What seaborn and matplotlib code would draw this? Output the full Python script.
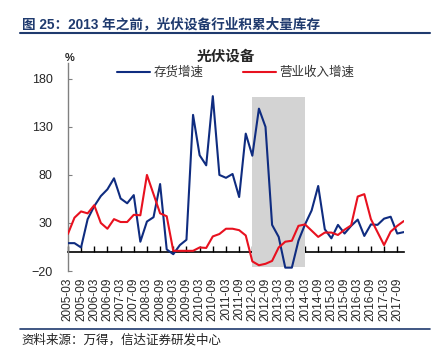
import pandas as pd
import seaborn as sns
import matplotlib.pyplot as plt
from matplotlib.lines import Line2D

# quarterly series, 2005-03 .. 2017-12 (%)
inventory_growth = [9, 9, 4.5, 34, 47.5, 58, 65, 76.5, 55.5, 50.5, 59, 10.5, 31.5, 36, 70.5, 2.5,
                    -2.5, 7, 12.5, 142.5, 100.5, 90, 162, 80, 77, 81, 57, 123, 100, 149, 130, 28,
                    15.5, -16.5, -16.5, 11.5, 28.5, 43, 68.5, 23.5, 14, 28, 19, 27, 33.5, 16.5,
                    28.5, 28, 34.5, 36.5, 19, 20.5]
revenue_growth = [18.5, 35.5, 42, 40, 48.5, 30, 24, 34, 31, 31, 38.5, 38, 80, 60, 40, 37,
                  1, 1, 1, 1, 4.5, 4, 16, 18.5, 24, 24, 22.5, 17, -10, -14, -12.5, -9.5,
                  4.5, 10.5, 11.5, 27, 28.5, 22, 15.5, 20, 20, 17.5, 23, 27.5, 57.5, 60,
                  34, 20.5, 7, 21, 27, 32]
tick_labels = ["2005-03", "2005-09", "2006-03", "2006-09", "2007-03", "2007-09", "2008-03",
               "2008-09", "2009-03", "2009-09", "2010-03", "2010-09", "2011-03", "2011-09",
               "2012-03", "2012-09", "2013-03", "2013-09", "2014-03", "2014-09", "2015-03",
               "2015-09", "2016-03", "2016-09", "2017-03", "2017-09"]
y_ticks = [-20, 30, 80, 130, 180]

# shaded period 2012-03 .. 2014-03
shade_start, shade_end = 28, 36
shade_low, shade_high = -15.5, 161

quarters = list(range(len(inventory_growth)))
df = pd.DataFrame({
    "q": quarters * 2,
    "value": inventory_growth + revenue_growth,
    "series": ["存货增速"] * len(quarters) + ["营业收入增速"] * len(quarters),
})

sns.set_style("white")
plt.rcParams['font.family'] = ['Liberation Sans', 'Noto Sans CJK SC']

fig = plt.figure(figsize=(4.38, 3.58), dpi=100)
ax = fig.add_axes([0.155, 0.243, 0.767, 0.581])

ax.fill_between([shade_start, shade_end], shade_low, shade_high, color="#d3d3d3", lw=0, zorder=1)

sns.lineplot(data=df, x="q", y="value", hue="series",
             palette={"存货增速": "#0f2c80", "营业收入增速": "#e8111f"},
             linewidth=1.5, ax=ax, zorder=3)

ax.set_xlim(0, 51)
ax.set_ylim(-20, 196.5)
ax.set_xlabel("")
ax.set_ylabel("")

ax.set_yticks(y_ticks)
ax.tick_params(axis="y", direction="in", length=3, pad=11, labelsize=9, color="#808080", left=True)
ax.set_xticks(quarters[::2])
ax.set_xticklabels(tick_labels, rotation=90, fontsize=8.5)
ax.tick_params(axis="x", length=0, pad=5)

for side in ["top", "right", "bottom"]:
    ax.spines[side].set_visible(False)
ax.spines["left"].set_color("#808080")
ax.spines["left"].set_linewidth(1)

# zero line with its own upward ticks
zero_axis = ax.secondary_xaxis(0, transform=ax.transData)
zero_axis.set_xticks(quarters[::2])
zero_axis.set_xticklabels([])
zero_axis.tick_params(axis="x", direction="in", length=4, width=1, color="black")
zero_axis.spines["bottom"].set_color("black")
zero_axis.spines["bottom"].set_linewidth(1.2)

ax.legend(loc="center", bbox_to_anchor=(0.5, 0.952), ncol=2, frameon=False,
          handlelength=2.6, handletextpad=0.3, columnspacing=3.2, fontsize=9,
          labelcolor="#333333")

ax.text(0.006, 1.024, "%", transform=ax.transAxes, fontsize=8, fontweight="bold",
        ha="center", va="center")
fig.text(0.516, 0.841, "光伏设备", ha="center", va="center", fontsize=10.5, fontweight="bold")

fig.text(0.05, 0.933, "图 25：2013 年之前，光伏设备行业积累大量库存", fontsize=9.8,
         fontweight="bold", color="#1f3a6e", ha="left", va="center")
fig.add_artist(Line2D([0.046, 0.982], [0.908, 0.908], color="#1f3a6e", lw=1.5))
fig.add_artist(Line2D([0.046, 0.982], [0.081, 0.081], color="#1f3a6e", lw=1.2))
fig.text(0.05, 0.050, "资料来源：万得，信达证券研发中心", fontsize=9, style="italic",
         color="#222222", ha="left", va="center")

fig.savefig("out.png", dpi=100)
